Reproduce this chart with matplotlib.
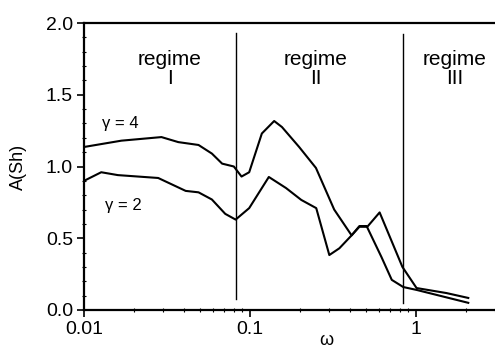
import matplotlib
matplotlib.use("Agg")
import matplotlib.pyplot as plt
from matplotlib.ticker import MultipleLocator, FixedLocator, NullFormatter

# Values
OMEGA_G4 = [0.01, 0.0168, 0.0293, 0.037, 0.049, 0.059, 0.068, 0.080, 0.089,
            0.099, 0.118, 0.14, 0.156, 0.198, 0.25, 0.322, 0.41, 0.457, 0.505,
            0.62, 0.716, 0.84, 1.01, 2.07]
A_G4 = [1.136, 1.18, 1.205, 1.17, 1.15, 1.09, 1.02, 1.0, 0.93,
        0.96, 1.23, 1.317, 1.275, 1.136, 0.99, 0.70, 0.52, 0.585, 0.585,
        0.37, 0.21, 0.16, 0.14, 0.05]

OMEGA_G2 = [0.01, 0.0127, 0.016, 0.028, 0.041, 0.049, 0.059, 0.071, 0.082,
            0.099, 0.13, 0.165, 0.204, 0.251, 0.301, 0.346, 0.41, 0.457, 0.51,
            0.605, 0.83, 1.01, 1.53, 2.07]
A_G2 = [0.90, 0.96, 0.94, 0.92, 0.83, 0.82, 0.77, 0.67, 0.63,
        0.71, 0.927, 0.85, 0.767, 0.71, 0.383, 0.43, 0.52, 0.58, 0.58,
        0.68, 0.30, 0.153, 0.118, 0.084]

REGIME_BOUNDS = [0.082, 0.84]
REGIME_LABELS = [("regime\nI", 0.033), ("regime\nII", 0.25), ("regime\nIII", 1.72)]
YTICKS = [0.0, 0.5, 1.0, 1.5, 2.0]
XTICKS = [0.01, 0.1, 1]
XTICKLABELS = ["0.01", "0.1", "1"]

plt.rcParams["font.family"] = ["Liberation Sans", "DejaVu Sans"]

fig = plt.figure(figsize=(4.95, 3.56), dpi=100)
ax = fig.add_axes([84 / 495, 1 - 310 / 356, 1 - 84 / 495, (310 - 23) / 356])

ax.plot(OMEGA_G4, A_G4, color="black", lw=1.5)
ax.plot(OMEGA_G2, A_G2, color="black", lw=1.5)

ax.plot([REGIME_BOUNDS[0]] * 2, [0.08, 1.93], color="black", lw=1.0)
ax.plot([REGIME_BOUNDS[1]] * 2, [0.05, 1.92], color="black", lw=1.0)

for txt, x in REGIME_LABELS:
    ax.text(x, 1.68, txt, ha="center", va="center", fontsize=15,
            linespacing=1.05)

ax.text(0.0165, 1.30, "γ = 4", ha="center", va="center", fontsize=12)
ax.text(0.0172, 0.73, "γ = 2", ha="center", va="center", fontsize=12)

ax.set_xscale("log")
ax.set_xlim(0.01, 3)
ax.set_ylim(0, 2.0)
ax.xaxis.set_major_locator(FixedLocator(XTICKS))
ax.set_xticklabels(XTICKLABELS)
ax.xaxis.set_minor_locator(FixedLocator(
    [m * 10.0 ** e for e in (-2, -1, 0) for m in range(2, 10)]))
ax.xaxis.set_minor_formatter(NullFormatter())
ax.yaxis.set_major_locator(FixedLocator(YTICKS))
ax.set_yticklabels([f"{v:.1f}" for v in YTICKS])
ax.yaxis.set_minor_locator(MultipleLocator(0.1))

ax.spines["right"].set_visible(False)
for s in ("left", "bottom", "top"):
    ax.spines[s].set_linewidth(1.6)
ax.tick_params(which="major", direction="out", length=5, width=1.2,
               labelsize=14, pad=3)
ax.tick_params(which="minor", direction="inout", length=3, width=0.8)

ax.text(0.59, -0.105, "ω", transform=ax.transAxes, ha="center",
        va="center", fontsize=13)
ax.text(-0.16, 0.5, "A(Sh)", transform=ax.transAxes, ha="center",
        va="center", rotation=90, fontsize=13)

fig.savefig("out.png", dpi=100)
